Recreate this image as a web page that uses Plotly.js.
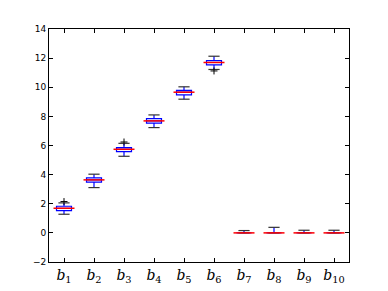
<!DOCTYPE html>
<html>
<head>
<meta charset="utf-8">
<script src="https://cdn.plot.ly/plotly-3.0.1.min.js"></script>
<style>html,body{margin:0;padding:0;background:#fff;}#chart{width:388px;height:291px;}</style>
</head>
<body>
<div id="chart"></div>
<script>
var categories = ['b1','b2','b3','b4','b5','b6','b7','b8','b9','b10'];
var tickLabels = ['<i>b</i><sub>1</sub>','<i>b</i><sub>2</sub>','<i>b</i><sub>3</sub>','<i>b</i><sub>4</sub>','<i>b</i><sub>5</sub>','<i>b</i><sub>6</sub>','<i>b</i><sub>7</sub>','<i>b</i><sub>8</sub>','<i>b</i><sub>9</sub>','<i>b</i><sub>10</sub>'];
var q1Values     = [1.53, 3.48, 5.58, 7.53, 9.48, 11.54, 0, 0, 0, 0];
var medianValues = [1.69, 3.64, 5.74, 7.69, 9.66, 11.70, 0, 0, 0, 0];
var q3Values     = [1.83, 3.78, 5.86, 7.85, 9.79, 11.83, 0, 0, 0, 0];
var lowerWhisker = [1.28, 3.11, 5.26, 7.23, 9.18, 11.22, 0, 0, 0, 0];
var upperWhisker = [2.06, 4.03, 6.15, 8.10, 10.03, 12.13, 0.16, 0.38, 0.18, 0.18];
var flierCats    = ['b1', 'b3', 'b6'];
var flierValues  = [2.15, 6.24, 11.12];
var yTicks = [-2, 0, 2, 4, 6, 8, 10, 12, 14];

var traces = [
  {
    type: 'box', x: categories,
    q1: q1Values, median: medianValues, q3: q3Values,
    lowerfence: lowerWhisker, upperfence: upperWhisker,
    width: 0.5, whiskerwidth: 0, boxpoints: false,
    line: {color: '#0000ff', width: 1.2},
    fillcolor: 'rgba(255,255,255,0)',
    hoverinfo: 'skip', showlegend: false
  },
  {
    type: 'scatter', mode: 'markers',
    x: categories.concat(categories), y: upperWhisker.concat(lowerWhisker),
    marker: {symbol: 'line-ew', size: 8, line: {color: '#333333', width: 1.2}},
    showlegend: false, hoverinfo: 'skip'
  },
  {
    type: 'scatter', mode: 'markers', x: categories, y: medianValues,
    marker: {symbol: 'line-ew', size: 15, line: {color: '#ff0000', width: 1.5}},
    showlegend: false, hoverinfo: 'skip'
  },
  {
    type: 'scatter', mode: 'markers', x: flierCats, y: flierValues,
    marker: {symbol: 'cross-thin', size: 5, line: {color: '#000000', width: 1}},
    showlegend: false, hoverinfo: 'skip'
  }
];

var layout = {
  width: 388, height: 291,
  margin: {l: 49, r: 39, t: 29, b: 29, pad: 0},
  paper_bgcolor: '#ffffff', plot_bgcolor: '#ffffff',
  showlegend: false,
  xaxis: {
    type: 'category', range: [-0.5, 9.5],
    tickvals: categories, ticktext: tickLabels,
    showline: true, linecolor: '#000000', linewidth: 1, mirror: 'ticks',
    ticks: 'inside', ticklen: 4, tickcolor: '#000000',
    showgrid: false, zeroline: false,
    tickfont: {family: 'DejaVu Serif', size: 14, color: '#000000'}
  },
  yaxis: {
    range: [-2, 14], tickvals: yTicks,
    showline: true, linecolor: '#000000', linewidth: 1, mirror: 'ticks',
    ticks: 'inside', ticklen: 4, tickcolor: '#000000',
    showgrid: false, zeroline: false,
    tickfont: {family: 'DejaVu Sans', size: 9, color: '#000000'}
  }
};

Plotly.newPlot('chart', traces, layout, {staticPlot: true, displayModeBar: false});
</script>
</body>
</html>
